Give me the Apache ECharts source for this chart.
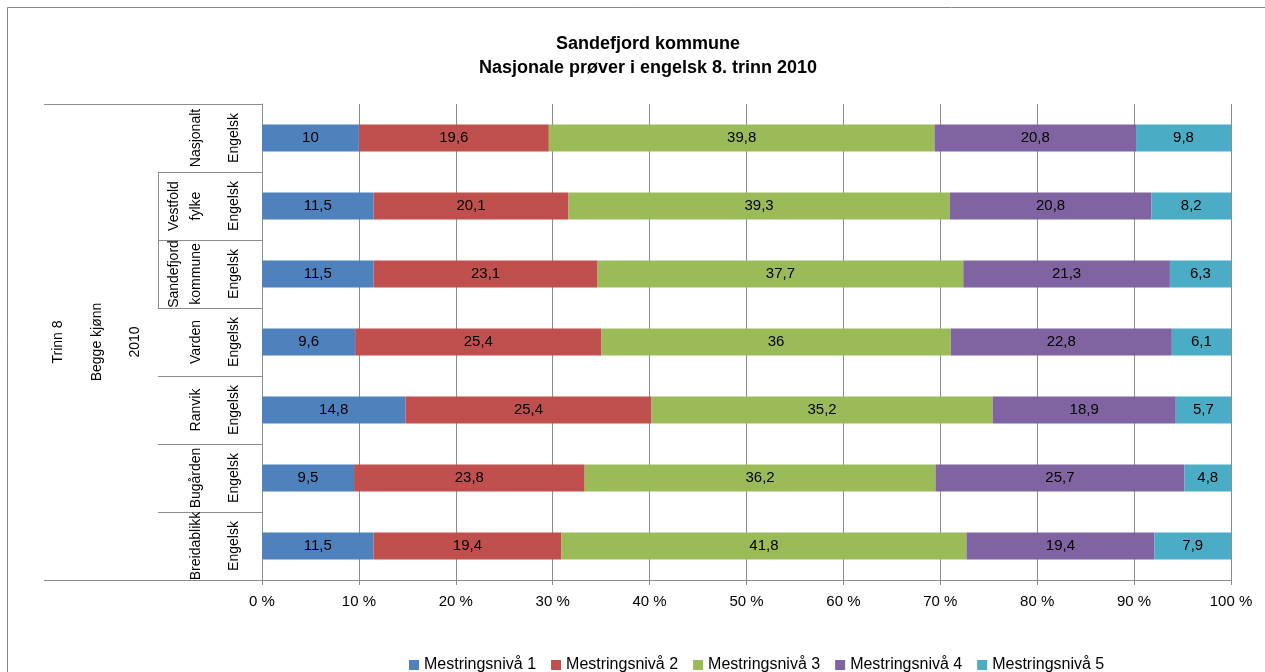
<!DOCTYPE html>
<html>
<head>
<meta charset="utf-8">
<script src="https://cdn.jsdelivr.net/npm/echarts@6/dist/echarts.min.js"></script>
<style>
html,body{margin:0;padding:0;background:#fff;}
#chart{width:1265px;height:672px;}
</style>
</head>
<body>
<div id="chart"></div>
<script>
// ---- data ----
const titleLines = ['Sandefjord kommune', 'Nasjonale prøver i engelsk 8. trinn 2010'];
const categories = ['Nasjonalt', 'Vestfold\nfylke', 'Sandefjord\nkommune', 'Varden', 'Ranvik', 'Bugården', 'Breidablikk'];
const subjectLabel = 'Engelsk';
const outerLabels = ['Trinn 8', 'Begge kjønn', '2010'];
const seriesNames = ['Mestringsnivå 1', 'Mestringsnivå 2', 'Mestringsnivå 3', 'Mestringsnivå 4', 'Mestringsnivå 5'];
const level1 = [10, 11.5, 11.5, 9.6, 14.8, 9.5, 11.5];
const level2 = [19.6, 20.1, 23.1, 25.4, 25.4, 23.8, 19.4];
const level3 = [39.8, 39.3, 37.7, 36, 35.2, 36.2, 41.8];
const level4 = [20.8, 20.8, 21.3, 22.8, 18.9, 25.7, 19.4];
const level5 = [9.8, 8.2, 6.3, 6.1, 5.7, 4.8, 7.9];
const xTicks = [0, 10, 20, 30, 40, 50, 60, 70, 80, 90, 100];

const colors = ['#4F81BD', '#C0504D', '#9BBB59', '#8064A2', '#4BACC6'];
const levels = [level1, level2, level3, level4, level5];
const totals = categories.map((c, i) => levels.reduce((s, l) => s + l[i], 0));
const FONT = 'Liberation Sans, Arial, sans-serif';
const gridColor = '#8C8C8C';

const chart = echarts.init(document.getElementById('chart'), null, {renderer: 'canvas'});

const series = levels.map((lv, k) => ({
  name: seriesNames[k],
  type: 'bar',
  stack: 'total',
  barWidth: '40%',
  itemStyle: {color: colors[k]},
  label: {
    show: true,
    position: 'inside',
    color: '#000',
    fontFamily: FONT,
    fontSize: 15,
    formatter: p => String(p.data.raw).replace('.', ',')
  },
  emphasis: {disabled: true},
  data: lv.map((v, i) => ({value: v / totals[i] * 100, raw: v}))
}));

const lineStyle = {stroke: gridColor, lineWidth: 1};
const graphics = [
  {type: 'rect', shape: {x: 7.5, y: 7.5, width: 1300, height: 700}, style: {fill: 'none', stroke: '#888', lineWidth: 1}, silent: true},
  {type: 'line', shape: {x1: 44, y1: 104.5, x2: 262, y2: 104.5}, style: lineStyle},
  {type: 'line', shape: {x1: 44, y1: 580.5, x2: 262, y2: 580.5}, style: lineStyle},
  {type: 'line', shape: {x1: 158.5, y1: 172, x2: 158.5, y2: 308}, style: lineStyle}
];
const outerX = [58, 97, 135];
outerLabels.forEach((t, i) => {
  graphics.push({
    type: 'text', x: outerX[i], y: 342, rotation: Math.PI / 2,
    style: {text: t, fontFamily: FONT, fontSize: 14, fill: '#000', align: 'center', verticalAlign: 'middle'}
  });
});

chart.setOption({
  animation: false,
  backgroundColor: '#fff',
  color: colors,
  title: {
    text: titleLines.join('\n'),
    left: 643,
    top: 27,
    textAlign: 'center',
    textStyle: {fontFamily: FONT, fontSize: 18, fontWeight: 'bold', color: '#000', lineHeight: 24}
  },
  legend: {
    left: 404,
    top: 652,
    itemWidth: 10,
    itemHeight: 10,
    itemGap: 15,
    icon: 'rect',
    textStyle: {fontFamily: FONT, fontSize: 16, color: '#000'},
    data: seriesNames
  },
  grid: {left: 262, top: 104, right: 34, bottom: 92, containLabel: false},
  xAxis: {
    type: 'value',
    min: 0,
    max: 100,
    interval: 10,
    axisLine: {show: true, lineStyle: {color: gridColor}},
    axisTick: {show: true, length: 5, lineStyle: {color: gridColor}},
    splitLine: {show: true, lineStyle: {color: gridColor}},
    axisLabel: {
      fontFamily: FONT, fontSize: 15, color: '#000', margin: 14,
      formatter: v => (xTicks.includes(v) ? v + ' %' : '')
    }
  },
  yAxis: [
    {
      type: 'category',
      data: categories,
      inverse: true,
      position: 'left',
      axisLine: {show: true, lineStyle: {color: gridColor}},
      axisTick: {show: true, length: 104, interval: 0, lineStyle: {color: gridColor}},
      splitLine: {show: false},
      axisLabel: {
        interval: 0, hideOverlap: false,
        rotate: 90, margin: 20, fontFamily: FONT, fontSize: 14, color: '#000', lineHeight: 16,
        formatter: () => subjectLabel
      }
    },
    {
      type: 'category',
      data: categories,
      inverse: true,
      position: 'left',
      axisLine: {show: false},
      axisTick: {show: false},
      splitLine: {show: false},
      axisLabel: {
        interval: 0, hideOverlap: false,
        rotate: 90, margin: 55, fontFamily: FONT, fontSize: 14, color: '#000', lineHeight: 22
      }
    }
  ],
  series: series,
  graphic: graphics
});
</script>
</body>
</html>
